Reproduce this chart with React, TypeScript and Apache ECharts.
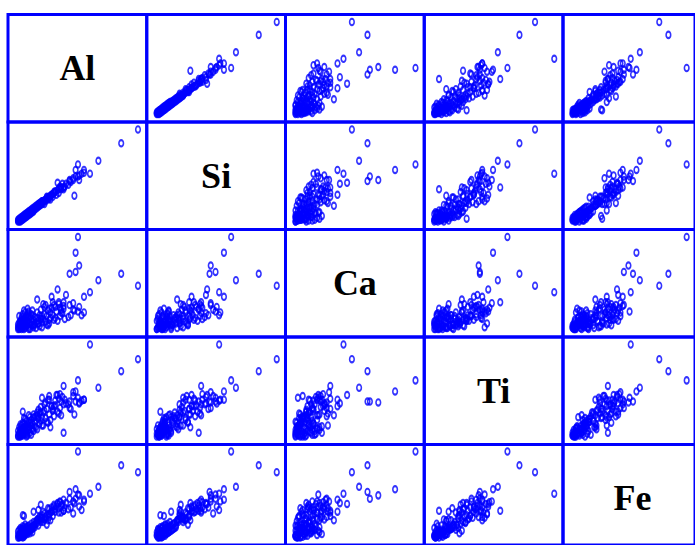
import React, { useEffect, useRef } from "react";
import * as echarts from "echarts";

// Element names shown on the diagonal
const elements = ["Al", "Si", "Ca", "Ti", "Fe"];

// Concentrations, scaled to 0–100 of each element's range
const al = [
  0, 1, 1, 2, 2, 3, 3, 4, 4, 5, 5, 6, 6, 7, 7, 8, 8, 9, 9, 10,
  10, 11, 11, 12, 12, 13, 13, 14, 14, 15, 2, 3, 1, 4, 5, 6, 0, 7, 8, 3,
  9, 2, 10, 5, 6, 11, 4, 12, 8, 1, 13, 7, 9, 15, 16, 16, 17, 17, 18, 18,
  19, 19, 20, 20, 0, 1, 3, 2, 5, 4,
  21, 22, 23, 21, 24, 25, 26, 23, 27, 28, 26, 29, 30, 31, 29, 32, 33, 31, 34, 35,
  36, 34, 37, 38, 39, 22, 24, 27, 20, 25,
  53, 44, 46, 46, 55, 40, 28, 26, 30, 19, 16, 51, 42, 36, 50, 43, 55, 17, 5, 4, 13, 35,
  100, 86, 67, 50, 60, 48, 51, 48, 43, 38, 38, 47, 33,
];
const si = [
  1, 0, 2, 1, 3, 2, 4, 3, 6, 4, 7, 5, 8, 6, 9, 7, 10, 8, 11, 9,
  12, 10, 13, 11, 14, 12, 15, 13, 16, 14, 0, 5, 3, 2, 6, 4, 2, 5, 9, 1,
  7, 4, 8, 3, 7, 9, 5, 10, 6, 1, 11, 8, 10, 17, 15, 18, 16, 19, 17, 20,
  18, 21, 19, 22, 0, 2, 3, 2, 5, 4,
  22, 19, 24, 20, 27, 24, 27, 22, 24, 29, 25, 30, 32, 32, 27, 29, 34, 33, 31, 36,
  35, 36, 41, 37, 38, 23, 26, 28, 22, 26,
  52, 43, 47, 45, 56, 41, 29, 27, 31, 20, 17, 50, 40, 37, 49, 45, 53, 19, 6, 3, 12, 38,
  100, 85, 66, 62, 52, 56, 45, 49, 44, 37, 35, 28, 42,
];
const ca = [
  2, 0, 4, 1, 6, 3, 0, 8, 2, 5, 10, 1, 7, 3, 12, 4, 9, 2, 14, 6,
  0, 11, 4, 8, 15, 2, 10, 5, 13, 7, 9, 13, 7, 16, 11, 18, 5, 14, 17, 11,
  0, 3, 13, 20, 9, 16, 1, 20, 22, 14, 4, 6, 19, 1, 12, 18, 6, 9, 15, 3,
  11, 21, 7, 14, 0, 1, 2, 8, 0, 4,
  11, 16, 8, 27, 14, 20, 10, 26, 18, 23, 6, 15, 26, 12, 29, 19, 9, 24, 29, 14,
  21, 27, 17, 25, 11, 24, 5, 12, 2, 4,
  15, 15, 21, 28, 35, 37, 35, 22, 10, 11, 32, 24, 13, 18, 19, 26, 18, 6, 3, 9, 5, 23,
  47, 60, 53, 100, 40, 83, 69, 62, 60, 29, 22, 20, 43,
];
const ti = [
  1, 3, 0, 5, 2, 7, 1, 4, 9, 3, 6, 11, 2, 8, 5, 13, 1, 10, 7, 15,
  4, 12, 18, 9, 14, 6, 20, 16, 11, 22, 8, 4, 10, 6, 14, 9, 6, 17, 3, 12,
  16, 13, 21, 10, 19, 2, 15, 7, 11, 2, 24, 0, 23, 10, 26, 8, 19, 29, 14, 25,
  17, 32, 21, 12, 0, 4, 2, 0, 7, 1,
  26, 35, 20, 12, 30, 40, 24, 37, 18, 33, 44, 28, 22, 39, 30, 45, 27, 34, 41, 31,
  38, 25, 43, 35, 40, 28, 16, 10, 42, 15,
  39, 30, 44, 48, 40, 36, 33, 40, 33, 27, 23, 36, 35, 23, 42, 31, 40, 21, 20, 27, 21, 46,
  84, 71, 53, 61, 100, 49, 37, 38, 38, 55, 4, 24, 45,
];
const fe = [
  0, 2, 1, 3, 1, 4, 2, 5, 3, 6, 2, 7, 4, 8, 5, 9, 6, 10, 7, 11,
  8, 12, 9, 13, 10, 14, 11, 15, 12, 16, 6, 8, 4, 9, 10, 3, 7, 12, 13, 10,
  14, 11, 5, 12, 15, 16, 13, 6, 4, 9, 18, 11, 8, 19, 17, 21, 14, 22, 20, 24,
  18, 23, 26, 21, 3, 0, 1, 2, 1, 0,
  18, 28, 22, 30, 26, 20, 33, 24, 29, 35, 27, 31, 38, 30, 25, 36, 40, 33, 29, 42,
  37, 34, 39, 44, 35, 21, 15, 20, 23, 34,
  32, 35, 28, 42, 44, 40, 30, 24, 36, 38, 20, 36, 33, 29, 50, 45, 42, 32, 25, 26, 30, 41,
  76, 84, 59, 100, 51, 56, 49, 45, 53, 31, 31, 40, 39,
];

const columns = [al, si, ca, ti, fe];

export default function App() {
  const ref = useRef<HTMLDivElement>(null);

  useEffect(() => {
    if (!ref.current) return;
    const chart = echarts.init(ref.current, null, { renderer: "svg" });

    const left0 = 8;
    const top0 = 14.5;
    const cw = 138.75;
    const ch = 107.5;
    const blue = "#0000ff";
    const n = elements.length;

    const grid: any[] = [];
    const xAxis: any[] = [];
    const yAxis: any[] = [];
    const series: any[] = [];
    const graphic: any[] = [];

    for (let r = 0; r < n; r++) {
      for (let c = 0; c < n; c++) {
        const idx = r * n + c;
        grid.push({
          left: left0 + c * cw,
          top: top0 + r * ch,
          width: cw,
          height: ch,
          show: true,
          borderColor: blue,
          borderWidth: 3,
          backgroundColor: "transparent",
        });
        xAxis.push({
          type: "value",
          gridIndex: idx,
          min: -8.33,
          max: 107.29,
          show: false,
          splitLine: { show: false },
        });
        yAxis.push({
          type: "value",
          gridIndex: idx,
          min: -8.7,
          max: 108.15,
          show: false,
          splitLine: { show: false },
        });
        if (r === c) {
          graphic.push({
            type: "text",
            x: left0 + c * cw + cw / 2,
            y: top0 + r * ch + ch / 2,
            style: {
              text: elements[r],
              font: 'bold 36px "Liberation Serif", "Times New Roman", serif',
              fill: "#000",
              align: "center",
              verticalAlign: "middle",
            },
          });
        } else {
          const xs = columns[c];
          const ys = columns[r];
          series.push({
            type: "scatter",
            xAxisIndex: idx,
            yAxisIndex: idx,
            symbol: "path://M50,0 A50,50 0 1,1 50,100 A50,50 0 1,1 50,0 Z",
            symbolSize: [4.6, 6.4],
            itemStyle: {
              color: "rgba(0,0,0,0)",
              borderColor: blue,
              borderWidth: 1.8,
            },
            emphasis: { disabled: true },
            data: xs.map((v, i) => [v, ys[i]]),
          });
        }
      }
    }

    chart.setOption({
      animation: false,
      backgroundColor: "#ffffff",
      grid,
      xAxis,
      yAxis,
      series,
      graphic,
    });

    return () => {
      chart.dispose();
    };
  }, []);

  return (
    <div
      ref={ref}
      style={{ position: "fixed", left: 0, top: 0, width: 695, height: 545 }}
    />
  );
}
